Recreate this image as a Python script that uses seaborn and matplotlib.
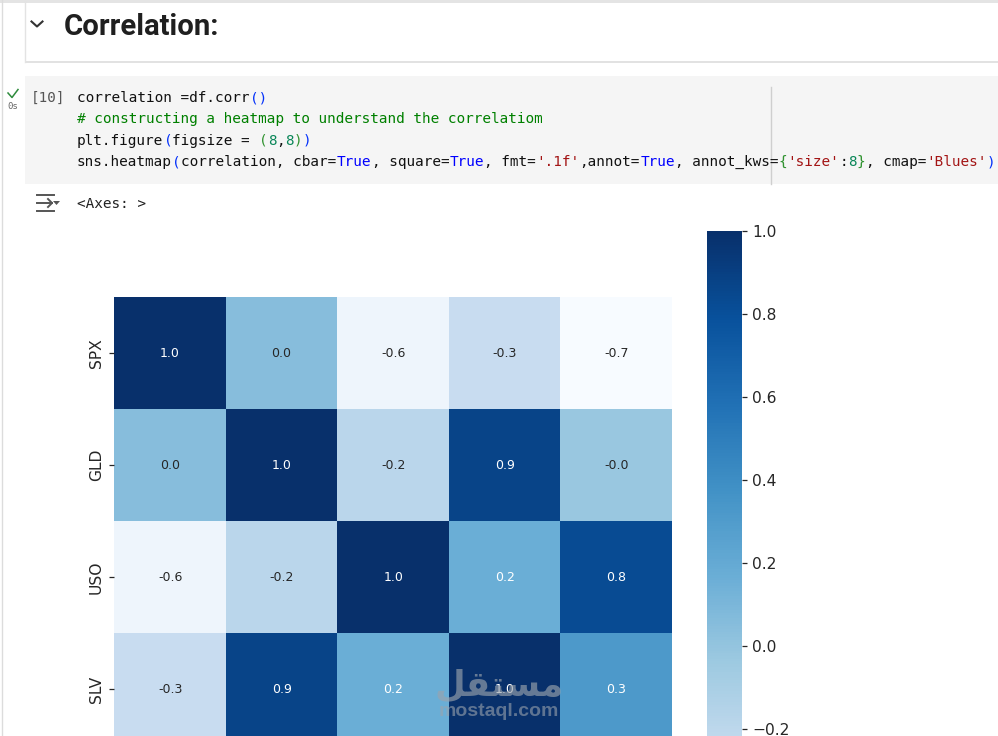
import matplotlib
matplotlib.use("Agg")
import matplotlib.pyplot as plt
from matplotlib.patches import Rectangle, Polygon
import numpy as np
import pandas as pd
import seaborn as sns

# ---------- chart data ----------
assets = ["SPX", "GLD", "USO", "SLV", "EUR/USD"]
spx = [1.00, 0.049, -0.59, -0.27, -0.67]
gld = [0.049, 1.00, -0.19, 0.87, -0.02]
uso = [-0.59, -0.19, 1.00, 0.17, 0.83]
slv = [-0.27, 0.87, 0.17, 1.00, 0.32]
eur = [-0.67, -0.02, 0.83, 0.32, 1.00]
cbar_ticks = [-0.2, 0.0, 0.2, 0.4, 0.6, 0.8, 1.0]

# ---------- notebook text ----------
BLK, GRN, BLU, RED, NUM, BR1, BR2 = "#111111", "#008000", "#0000ff", "#a31515", "#098658", "#0431fa", "#319331"
code_lines = [
    [("correlation =df.corr", BLK), ("()", BR1)],
    [("# constructing a heatmap to understand the correlatiom", GRN)],
    [("plt.figure", BLK), ("(", BR1), ("figsize = ", BLK), ("(", BR2), ("8", NUM), (",", BLK), ("8", NUM), (")", BR2), (")", BR1)],
    [("sns.heatmap", BLK), ("(", BR1), ("correlation, cbar=", BLK), ("True", BLU), (", square=", BLK), ("True", BLU),
     (", fmt=", BLK), ("'.1f'", RED), (",annot=", BLK), ("True", BLU), (", annot_kws=", BLK), ("{", BR2),
     ("'size'", RED), (":", BLK), ("8", NUM), ("}", BR2), (", cmap=", BLK), ("'Blues'", RED), (")", BR1)],
]
W, H = 998, 736
fig = plt.figure(figsize=(W / 100, H / 100), dpi=100, facecolor="white")


def rect(left, top, right, bottom):
    """Axes rectangle from pixel edges of the picture."""
    return [left / W, 1 - bottom / H, (right - left) / W, (bottom - top) / H]


# page layer in pixel coordinates
bg = fig.add_axes([0, 0, 1, 1], zorder=0)
bg.set_xlim(0, W)
bg.set_ylim(H, 0)
bg.axis("off")
bg.add_patch(Rectangle((0, 0), W, 2.5, color="#e4e4e4", lw=0))
bg.plot([2, 2], [0, H], color="#dcdcdc", lw=1)
bg.plot([25, 25], [2, 62], color="#e3e3e3", lw=1)
bg.add_patch(Rectangle((25, 61), W, 2, color="#e2e2e2", lw=0))
bg.plot([31.5, 37, 42.5], [21.5, 26.5, 21.5], color="#333333", lw=1.5)
bg.text(64, 24, "Correlation:", family="Roboto", weight="bold", fontsize=21.1, color="#1f1f1f", va="center_baseline")
bg.add_patch(Rectangle((25, 76), W, 108, color="#f5f5f5", lw=0))
bg.plot([771, 771], [87, 184], color="#cfcfcf", lw=1)
bg.plot([8, 12, 18], [93, 97.5, 89.5], color="#2e8b3d", lw=1.1)
bg.text(13, 106.5, "0s", fontsize=6.5, color="#666666", ha="center", va="center", family="DejaVu Sans Mono")
bg.text(31, 98, "[10]", fontsize=10.4, color="#555555", va="center", family="DejaVu Sans Mono")

CHAR = 8.665
for row, tokens in enumerate(code_lines):
    col = 0
    for text, color in tokens:
        bg.text(77 + col * CHAR, 98 + row * 21.4, text, color=color, fontsize=10.4,
                family="DejaVu Sans Mono", va="center")
        col += len(text)

# output icon and repr
for y0, x0, x1 in [(195, 37, 54), (211, 37, 54)]:
    bg.plot([x0, x1], [y0, y0], color="#555555", lw=1.4)
bg.plot([37, 52], [203, 203], color="#555555", lw=1.4)
bg.plot([48, 52, 48], [199, 203, 207], color="#555555", lw=1.4)
bg.add_patch(Polygon([[53, 201], [60, 201], [56.5, 205]], color="#555555", lw=0))
bg.text(77, 204, "<Axes: >", fontsize=10.4, color="#222222", va="center", family="DejaVu Sans Mono")

# ---------- heatmap: axes run past the bottom of the picture ----------
corr = pd.DataFrame([spx, gld, uso, slv, eur], index=assets, columns=assets)
ax_box = rect(114.3, 297.3, 672, 857.3)   # cells of the screenshot are very slightly taller than wide
cax_box = rect(707, 231, 742, 924)
ax = fig.add_axes(ax_box, zorder=1)
cax = fig.add_axes(cax_box, zorder=1)
ax.patch.set_alpha(0)
sns.heatmap(corr, ax=ax, cbar=True, cbar_ax=cax, square=False, fmt=".1f", annot=True,
            annot_kws={"size": 9}, cmap="Blues")
ax.tick_params(axis="both", labelsize=11.2, length=3.9, width=0.9, colors="#262626")
ax.tick_params(axis="x", bottom=False, labelbottom=False)  # below the crop of the screenshot
cax.set_yticks(cbar_ticks)
cax.tick_params(labelsize=11.2, length=3.9, width=0.9, colors="#262626")
ax.get_yticklabels()[-1].set_visible(False)
ax.yaxis.get_major_ticks()[-1].set_visible(False)
for t, (r, c) in zip(ax.texts, [(r, c) for r in range(5) for c in range(5)]):
    if r == 4:
        t.set_visible(False)   # fifth row lies below the crop
ax.set_position(ax_box)
cax.set_position(cax_box)

# ---------- watermark ----------
top = fig.add_axes([0, 0, 1, 1], zorder=3)
top.set_xlim(0, W)
top.set_ylim(H, 0)
top.axis("off")
top.text(499, 686, "\ufede\ufed8\ufe98\ufeb4\ufee3", family="DejaVu Sans", weight="bold", fontsize=25.5,
         color="#9aa3ad", alpha=0.65, ha="center", va="center")
top.text(498.5, 711, "mostaql.com", family="Liberation Sans", weight="bold", fontsize=14,
         color="#9aa3ad", alpha=0.6, ha="center", va="center")

fig.savefig("out.png", dpi=100)
